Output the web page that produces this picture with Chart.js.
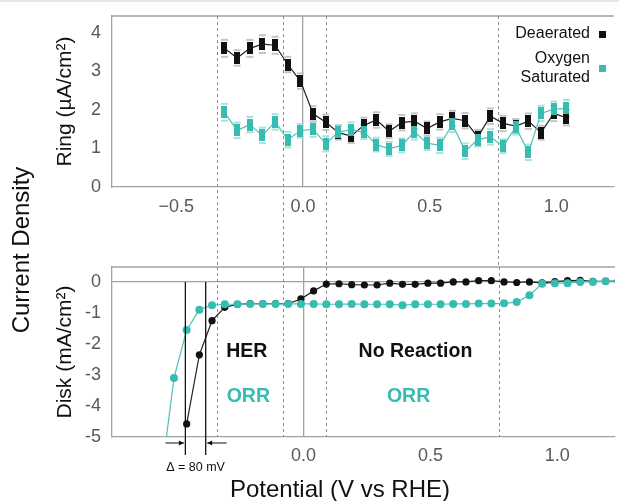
<!DOCTYPE html>
<html>
<head>
<meta charset="utf-8">
<script src="https://cdn.jsdelivr.net/npm/chart.js@4.4.1/dist/chart.umd.min.js"></script>
<style>
  html, body { margin: 0; padding: 0; background: #fff; }
  #wrap { position: relative; width: 619px; height: 501px; overflow: hidden; }
  #wrap canvas { position: absolute; left: 0; top: 0; }
  #topline { position: absolute; left: 0; top: 0; width: 619px; height: 2px; background: #e5e5f0; }
</style>
</head>
<body>
<div id="wrap">
  <div id="topline"></div>
  <canvas id="ring" width="619" height="501"></canvas>
  <canvas id="disk" width="619" height="501"></canvas>
</div>
<script>
// ring current, µA/cm² (top panel)
const ringPotential = [-0.31, -0.26, -0.21, -0.16, -0.11, -0.06, -0.01, 0.04, 0.09, 0.14,
  0.19, 0.24, 0.29, 0.34, 0.39, 0.44, 0.49, 0.54, 0.59, 0.64,
  0.69, 0.74, 0.79, 0.84, 0.89, 0.94, 0.99, 1.04];
const ringDeaerated = [3.60, 3.35, 3.60, 3.71, 3.68, 3.18, 2.75, 1.90, 1.68, 1.41,
  1.32, 1.60, 1.74, 1.45, 1.67, 1.71, 1.52, 1.69, 1.78, 1.72,
  1.30, 1.84, 1.65, 1.58, 1.71, 1.41, 1.91, 1.80];
const ringOxygen = [1.94, 1.47, 1.62, 1.34, 1.69, 1.23, 1.46, 1.50, 1.12, 1.43,
  1.48, 1.43, 1.10, 0.99, 1.08, 1.43, 1.14, 1.08, 1.63, 0.93,
  1.23, 1.30, 1.06, 1.56, 0.90, 1.91, 2.02, 2.04];
const ringDeaeratedErr = [0.22, 0.20, 0.22, 0.23, 0.22, 0.20, 0.20, 0.20, 0.20, 0.18,
  0.18, 0.20, 0.20, 0.18, 0.20, 0.20, 0.18, 0.20, 0.20, 0.20,
  0.18, 0.20, 0.20, 0.18, 0.20, 0.18, 0.20, 0.20];
const ringOxygenErr = [0.22, 0.20, 0.20, 0.20, 0.20, 0.20, 0.18, 0.20, 0.20, 0.18,
  0.20, 0.18, 0.18, 0.18, 0.18, 0.20, 0.18, 0.20, 0.20, 0.20,
  0.18, 0.20, 0.18, 0.20, 0.20, 0.20, 0.20, 0.22];

// disk current, mA/cm² (bottom panel)
const diskPotential = [-0.56, -0.51, -0.46, -0.41, -0.36, -0.31, -0.26, -0.21, -0.16, -0.11,
  -0.06, -0.01, 0.04, 0.09, 0.14, 0.19, 0.24, 0.29, 0.34, 0.39,
  0.44, 0.49, 0.54, 0.59, 0.64, 0.69, 0.74, 0.79, 0.84, 0.89,
  0.94, 0.99, 1.04, 1.09, 1.14, 1.19, 1.24];
const diskOxygen = [-6.30, -3.10, -1.55, -0.90, -0.75, -0.72, -0.72, -0.71, -0.71, -0.71,
  -0.71, -0.71, -0.71, -0.72, -0.72, -0.71, -0.72, -0.72, -0.72, -0.75,
  -0.72, -0.72, -0.72, -0.71, -0.71, -0.70, -0.70, -0.69, -0.65, -0.43,
  -0.06, -0.04, -0.04, 0.00, 0.00, 0.02, 0.02];
// deaerated sweep starts at -0.46 V
const diskDeaerated = [-4.58, -2.35, -1.25, -0.82, -0.72, -0.70, -0.70, -0.70, -0.70, -0.55,
  -0.29, -0.07, -0.06, -0.09, -0.10, -0.10, -0.04, -0.08, -0.08, -0.04,
  -0.04, 0.00, 0.00, 0.04, 0.04, 0.00, -0.02, 0.00, -0.03, 0.01,
  0.04, 0.05, 0.02, 0.02, 0.03];

// region boundaries and the two onset potentials
const regionEdges = [-0.34, -0.08, 0.09, 0.77];
const onsetMarks = [-0.465, -0.385];

const xTicksRing = [-0.5, 0, 0.5, 1.0];
const xLabelsRing = ['\u22120.5', '0.0', '0.5', '1.0'];
const xTicksDisk = [0, 0.5, 1.0];
const xLabelsDisk = ['0.0', '0.5', '1.0'];
const yTicksRing = [0, 1, 2, 3, 4];
const yLabelsRing = ['0', '1', '2', '3', '4'];
const yTicksDisk = [0, -1, -2, -3, -4, -5];
const yLabelsDisk = ['0', '-1', '-2', '-3', '-4', '-5'];

const TEAL = '#36bcb0';
const BLACK = '#111111';
const FRAME = '#a2a2a2';
const FONT = "'Liberation Sans', Arial, sans-serif";

const X_MIN = -0.754, X_MAX = 1.227;
const RING_BOX = { top: 16, bottom: 187 };
const DISK_BOX = { top: 267, bottom: 437 };
const H = 501, AXIS_W = 112, XAXIS_H = 40;

Chart.defaults.font.family = FONT;

function pairs(xs, ys) {
  return ys.map((y, i) => ({ x: xs[i], y: y }));
}

function barMarker(color) {
  const c = document.createElement('canvas');
  c.width = 6; c.height = 12;
  const g = c.getContext('2d');
  g.fillStyle = color;
  g.fillRect(0, 0, 6, 12);
  return c;
}

function fixedTicks(values) {
  return scale => { scale.ticks = values.map(v => ({ value: v })); };
}

const zeroOnly = ctx => (ctx.tick && ctx.tick.value === 0) ? FRAME : 'rgba(0,0,0,0)';

function xScale(ticks, labels, pad) {
  return {
    type: 'linear', min: X_MIN, max: X_MAX,
    afterBuildTicks: fixedTicks(ticks),
    afterFit: s => { s.height = XAXIS_H; s.paddingLeft = 0; s.paddingRight = 0; },
    grid: { drawTicks: false, color: zeroOnly, lineWidth: 1.3 },
    border: { color: FRAME, width: 1.3 },
    ticks: {
      autoSkip: false, maxRotation: 0, padding: pad, color: '#595959',
      font: { size: 18 }, callback: (v, i) => labels[i]
    }
  };
}

function yScale(min, max, ticks, labels, title, grid) {
  return {
    min: min, max: max,
    afterBuildTicks: fixedTicks(ticks),
    afterFit: s => { s.width = AXIS_W; s.paddingTop = 0; s.paddingBottom = 0; },
    grid: grid,
    border: { color: FRAME, width: 1.3 },
    ticks: {
      autoSkip: false, padding: 11, color: '#595959',
      font: { size: 18 }, callback: (v, i) => labels[i]
    },
    title: {
      display: true, text: title, color: BLACK,
      font: { size: 21 }, padding: { top: 53, bottom: 0 }
    }
  };
}

// top edge of each panel frame
const frameTop = {
  id: 'frameTop',
  beforeDatasetsDraw(chart) {
    const { ctx, chartArea: a } = chart;
    ctx.save();
    ctx.strokeStyle = FRAME;
    ctx.lineWidth = 1.3;
    ctx.beginPath();
    ctx.moveTo(a.left, a.top);
    ctx.lineTo(a.right, a.top);
    ctx.stroke();
    ctx.restore();
  }
};

// dashed region boundaries, running from the top of one panel down to toY
function regionLines(toY) {
  return {
    id: 'regionLines',
    beforeDatasetsDraw(chart) {
      const { ctx, chartArea: a, scales: { x } } = chart;
      const bottom = toY != null ? toY : a.bottom;
      ctx.save();
      ctx.strokeStyle = '#8c8c8c';
      ctx.lineWidth = 1;
      ctx.setLineDash([3, 3]);
      regionEdges.forEach(v => {
        const px = Math.round(x.getPixelForValue(v)) + 0.5;
        ctx.beginPath();
        ctx.moveTo(px, a.top);
        ctx.lineTo(px, bottom);
        ctx.stroke();
      });
      ctx.restore();
    }
  };
}

// light caps above and below each ring marker
const errorCaps = {
  id: 'errorCaps',
  beforeDatasetsDraw(chart) {
    const { ctx, scales: { y } } = chart;
    chart.data.datasets.forEach((ds, i) => {
      const meta = chart.getDatasetMeta(i);
      ctx.save();
      ctx.strokeStyle = ds.capColor;
      ctx.lineWidth = 2;
      meta.data.forEach((pt, j) => {
        const v = ds.data[j].y, e = ds.errors[j];
        [v + e, v - e].forEach(val => {
          const py = y.getPixelForValue(val);
          ctx.beginPath();
          ctx.moveTo(pt.x - 3.5, py);
          ctx.lineTo(pt.x + 3.5, py);
          ctx.stroke();
        });
      });
      ctx.restore();
    });
  }
};

const ringLegend = {
  id: 'ringLegend',
  afterDraw(chart) {
    const { ctx } = chart;
    ctx.save();
    ctx.font = '16px ' + FONT;
    ctx.fillStyle = BLACK;
    ctx.textAlign = 'right';
    ctx.textBaseline = 'middle';
    ctx.fillText('Deaerated', 590, 34);
    ctx.fillText('Oxygen', 590, 59);
    ctx.fillText('Saturated', 590, 78);
    ctx.fillStyle = BLACK;
    ctx.fillRect(599, 31, 7, 7);
    ctx.fillStyle = TEAL;
    ctx.fillRect(599, 65, 7, 7);
    ctx.restore();
  }
};

const diskNotes = {
  id: 'diskNotes',
  afterDraw(chart) {
    const { ctx, chartArea: a, scales: { x, y } } = chart;
    ctx.save();
    ctx.textAlign = 'center';
    ctx.textBaseline = 'middle';

    // reaction regions
    ctx.font = 'bold 19.5px ' + FONT;
    ctx.fillStyle = BLACK;
    ctx.fillText('HER', x.getPixelForValue(-0.223), y.getPixelForValue(-2.25));
    ctx.fillText('No Reaction', x.getPixelForValue(0.441), y.getPixelForValue(-2.25));
    ctx.fillStyle = TEAL;
    ctx.fillText('ORR', x.getPixelForValue(-0.217), y.getPixelForValue(-3.71));
    ctx.fillText('ORR', x.getPixelForValue(0.414), y.getPixelForValue(-3.71));

    // onset shift between the two curves
    const y0 = y.getPixelForValue(0);
    const [x1, x2] = onsetMarks.map(v => x.getPixelForValue(v));
    ctx.strokeStyle = BLACK;
    ctx.fillStyle = BLACK;
    ctx.lineWidth = 1.3;
    [x1, x2].forEach(px => {
      ctx.beginPath();
      ctx.moveTo(px, y0);
      ctx.lineTo(px, a.bottom + 18);
      ctx.stroke();
    });
    const ay = a.bottom + 6;
    const arrow = (from, to) => {
      const dir = Math.sign(to - from);
      ctx.lineWidth = 1;
      ctx.beginPath();
      ctx.moveTo(from, ay);
      ctx.lineTo(to, ay);
      ctx.stroke();
      ctx.beginPath();
      ctx.moveTo(to, ay);
      ctx.lineTo(to - dir * 5, ay - 2.5);
      ctx.lineTo(to - dir * 5, ay + 2.5);
      ctx.closePath();
      ctx.fill();
    };
    arrow(x1 - 20, x1 - 1.5);
    arrow(x2 + 21, x2 + 1.5);
    ctx.font = '12.5px ' + FONT;
    ctx.fillText('\u0394 = 80 mV', (x1 + x2) / 2, a.bottom + 31);

    // shared axis titles
    ctx.font = '24px ' + FONT;
    ctx.fillText('Potential (V vs RHE)', 340, 490);
    ctx.translate(22, 250);
    ctx.rotate(-Math.PI / 2);
    ctx.fillText('Current Density', 0, 0);
    ctx.restore();
  }
};

new Chart(document.getElementById('ring'), {
  type: 'line',
  data: {
    datasets: [
      {
        label: 'Oxygen Saturated',
        data: pairs(ringPotential, ringOxygen),
        errors: ringOxygenErr, capColor: '#a9e2dc',
        borderColor: '#4cc4b8', borderWidth: 1.2,
        pointStyle: barMarker(TEAL), pointRadius: 3
      },
      {
        label: 'Deaerated',
        data: pairs(ringPotential, ringDeaerated),
        errors: ringDeaeratedErr, capColor: '#c4c4c4',
        borderColor: '#222', borderWidth: 1.2,
        pointStyle: barMarker(BLACK), pointRadius: 3
      }
    ]
  },
  options: {
    responsive: false, animation: false,
    layout: { padding: { left: 0, right: 0, top: RING_BOX.top, bottom: H - RING_BOX.bottom - XAXIS_H } },
    plugins: { legend: { display: false }, tooltip: { enabled: false } },
    scales: {
      x: xScale(xTicksRing, xLabelsRing, 9),
      y: yScale(0, 4.44, yTicksRing, yLabelsRing, 'Ring (\u00b5A/cm\u00b2)', { display: false, drawTicks: false })
    }
  },
  plugins: [frameTop, regionLines(DISK_BOX.top), errorCaps, ringLegend]
});

new Chart(document.getElementById('disk'), {
  type: 'line',
  data: {
    datasets: [
      {
        label: 'Oxygen Saturated',
        data: pairs(diskPotential, diskOxygen),
        borderColor: '#4cc4b8', borderWidth: 1.2,
        pointBackgroundColor: TEAL, pointBorderWidth: 0, pointRadius: 4
      },
      {
        label: 'Deaerated',
        data: pairs(diskPotential.slice(2), diskDeaerated),
        borderColor: '#222', borderWidth: 1.2,
        pointBackgroundColor: BLACK, pointBorderWidth: 0, pointRadius: 3.6
      }
    ]
  },
  options: {
    responsive: false, animation: false,
    layout: { padding: { left: 0, right: 0, top: DISK_BOX.top, bottom: H - DISK_BOX.bottom - XAXIS_H } },
    plugins: { legend: { display: false }, tooltip: { enabled: false } },
    scales: {
      x: xScale(xTicksDisk, xLabelsDisk, 8),
      y: yScale(-5, 0.48, yTicksDisk, yLabelsDisk, 'Disk (mA/cm\u00b2)',
        { drawTicks: false, color: zeroOnly, lineWidth: 1.3 })
    }
  },
  plugins: [frameTop, regionLines(null), diskNotes]
});
</script>
</body>
</html>
